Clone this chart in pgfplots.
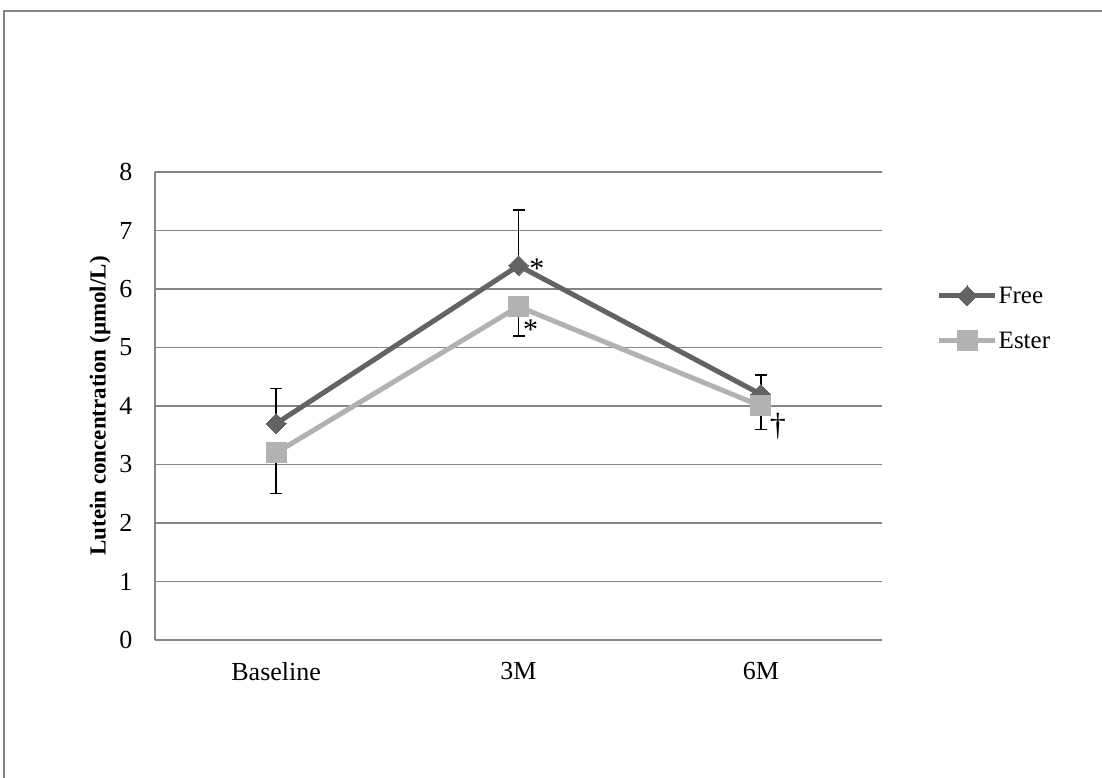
\documentclass[border=0pt]{standalone}
\usepackage{fontspec}
\setmainfont{Liberation Serif}
\usepackage{pgfplots}
\pgfplotsset{compat=1.18}
\definecolor{freec}{RGB}{99,99,99}
\definecolor{esterc}{RGB}{178,178,178}
\definecolor{gridc}{RGB}{134,134,134}
\begin{document}
\begin{tikzpicture}[x=1pt,y=1pt]
\useasboundingbox (0,0) rectangle (1102,778);
\draw[gridc,line width=2pt] (4,0) -- (4,767) -- (1102,767);
\begin{axis}[
  at={(155pt,138pt)}, anchor=south west,
  scale only axis, width=727pt, height=468pt,
  xmin=-0.5, xmax=2.5, ymin=0, ymax=8,
  xtick={0,1,2}, xticklabels={Baseline,3M,6M},
  ytick={0,1,...,8},
  ymajorgrids, grid style={gridc, line width=1.2pt},
  major tick length=0pt,
  axis x line*=bottom, axis y line*=left,
  axis line style={gridc, line width=1.2pt, -},
  tick label style={font=\fontsize{26}{30}\selectfont},
  /pgf/number format/assume math mode=true,
  xticklabel style={yshift=-19pt},
  yticklabel style={xshift=-19pt},
  ylabel={\textbf{Lutein concentration (µmol/L)}},
  ylabel style={font=\fontsize{23}{26}\selectfont, yshift=2pt},
  legend style={at={(1.075,0.757)}, anchor=north west, draw=none, fill=none,
    font=\fontsize{25}{30}\selectfont, row sep=25pt,
    legend cell align=left, inner sep=0pt, nodes={inner sep=1pt}},
  legend image code/.code={
    \draw[#1, mark repeat=2, mark phase=2] plot coordinates {(0pt,0pt) (28pt,0pt) (56pt,0pt)};
  },
]
\addplot[freec, line width=5pt, mark=square*, mark size=7pt,
  mark options={rotate=45, line width=0pt, fill=freec},
  error bars/.cd, y dir=plus, y explicit,
  error bar style={black, line width=1.5pt},
  error mark options={rotate=90, mark size=6pt, black, line width=1.5pt}]
  coordinates {(0,3.7) +- (0,0.6) (1,6.4) +- (0,0.95) (2,4.2) +- (0,0.33)};
\addlegendentry{Free}
\addplot[esterc, line width=5pt, mark=square*, mark size=10pt,
  mark options={line width=0pt, fill=esterc},
  error bars/.cd, y dir=minus, y explicit,
  error bar style={black, line width=1.5pt},
  error mark options={rotate=90, mark size=6pt, black, line width=1.5pt}]
  coordinates {(0,3.2) +- (0,0.7) (1,5.7) +- (0,0.5) (2,4.0) +- (0,0.4)};
\addlegendentry{Ester}
\node[font=\fontsize{30}{30}\selectfont] at (axis cs:1.076,6.34) {*};
\node[font=\fontsize{30}{30}\selectfont] at (axis cs:1.05,5.30) {*};
\node[font=\fontsize{32}{32}\selectfont] at (axis cs:2.07,3.66) {†};
\end{axis}
\end{tikzpicture}
\end{document}
